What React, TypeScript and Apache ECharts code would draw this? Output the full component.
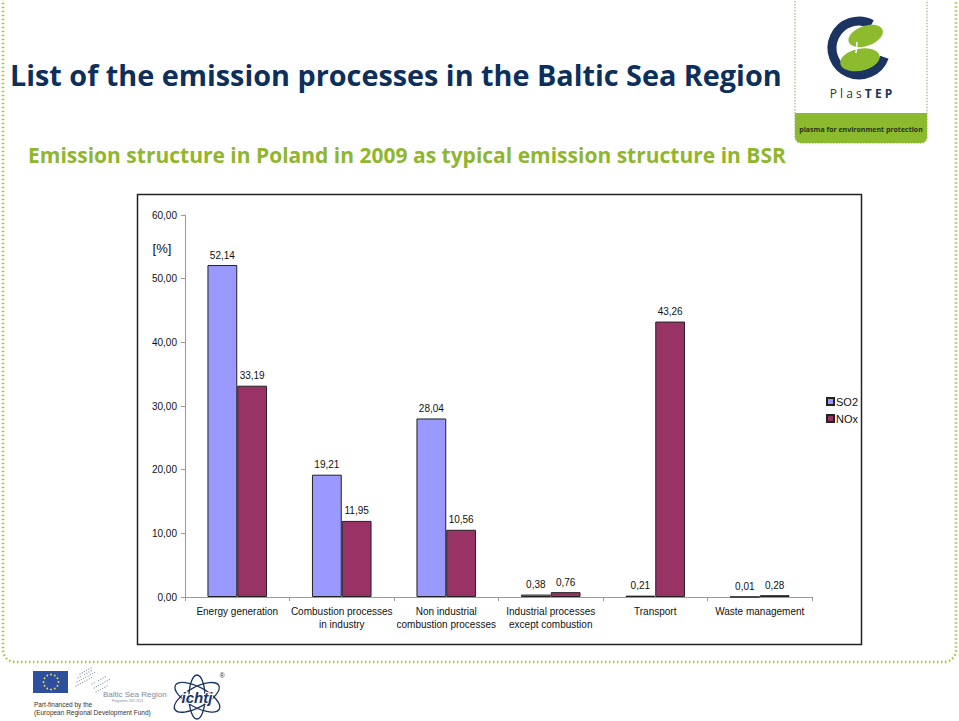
import React, { useEffect, useRef } from "react";
import * as echarts from "echarts";

const categories = [
  "Energy generation",
  "Combustion processes\nin industry",
  "Non industrial\ncombustion processes",
  "Industrial processes\nexcept combustion",
  "Transport",
  "Waste management",
];
const so2Values = [52.14, 19.21, 28.04, 0.38, 0.21, 0.01];
const noxValues = [33.19, 11.95, 10.56, 0.76, 43.26, 0.28];
const seriesNames = ["SO2", "NOx"];
const yTicks = { min: 0, max: 60, interval: 10 };

const fmt = (v: number) => v.toFixed(2).replace(".", ",");
const CHART_FONT = "Liberation Sans, Arial, sans-serif";
const TITLE_FONT = "Open Sans, Noto Sans, sans-serif";

export default function App() {
  const ref = useRef<HTMLDivElement>(null);
  useEffect(() => {
    if (!ref.current) return;
    const chart = echarts.init(ref.current, undefined, { renderer: "svg" });
    const starDots: any[] = [];
    for (let i = 0; i < 12; i++) {
      const a = (i / 12) * Math.PI * 2;
      starDots.push({
        type: "circle",
        shape: { cx: 51 + Math.cos(a) * 7.5, cy: 682 + Math.sin(a) * 7.5, r: 0.9 },
        style: { fill: "#f4e04d" },
      });
    }
    const bsrDots: any[] = [];
    const bsrRows = [
      [80, 674, 6], [78, 678, 8], [77, 682, 9], [76, 686, 8], [92, 684, 7], [94, 688, 8], [96, 692, 6],
    ];
    bsrRows.forEach(([x0, y0, n]) => {
      for (let k = 0; k < n; k++) {
        bsrDots.push({
          type: "circle",
          shape: { cx: x0 + k * 2.2, cy: y0 - k * 1.2, r: 0.6 },
          style: { fill: "#8a99a8" },
        });
      }
    });

    const labelStyle = {
      show: true,
      position: "top",
      distance: 5,
      fontSize: 10,
      color: "#111",
      fontFamily: CHART_FONT,
      formatter: (p: any) => fmt(p.value),
    };

    chart.setOption({
      animation: false,
      backgroundColor: "#ffffff",
      textStyle: { fontFamily: CHART_FONT },
      grid: { left: 185, right: 147, top: 215, bottom: 124, containLabel: false },
      legend: {
        orient: "vertical",
        left: 821,
        top: 391,
        itemWidth: 7,
        itemHeight: 7,
        itemGap: 6,
        icon: "rect",
        textStyle: { fontSize: 11, color: "#111", fontFamily: CHART_FONT, padding: [0, 0, 0, -3] },
        data: seriesNames,
      },
      xAxis: {
        type: "category",
        data: categories,
        axisLine: { lineStyle: { color: "#9a9a9a", width: 1 } },
        axisTick: { show: true, length: 4, lineStyle: { color: "#9a9a9a" } },
        axisLabel: {
          fontSize: 10,
          color: "#111",
          lineHeight: 13,
          margin: 8,
          interval: 0,
          fontFamily: CHART_FONT,
        },
      },
      yAxis: {
        type: "value",
        min: yTicks.min,
        max: yTicks.max,
        interval: yTicks.interval,
        splitLine: { show: false },
        axisLine: { show: true, lineStyle: { color: "#9a9a9a", width: 1 } },
        axisTick: { show: true, length: 4, lineStyle: { color: "#9a9a9a" } },
        axisLabel: {
          fontSize: 10,
          color: "#111",
          margin: 8,
          formatter: (v: number) => fmt(v),
          fontFamily: CHART_FONT,
        },
      },
      series: [
        {
          name: seriesNames[0],
          type: "bar",
          data: so2Values,
          barGap: "0%",
          barCategoryGap: "43%",
          itemStyle: { color: "#9999ff", borderColor: "#222", borderWidth: 1 },
          label: labelStyle,
        },
        {
          name: seriesNames[1],
          type: "bar",
          data: noxValues,
          barGap: "0%",
          barCategoryGap: "43%",
          itemStyle: { color: "#993366", borderColor: "#222", borderWidth: 1 },
          label: labelStyle,
        },
      ],
      graphic: [
        // slide dotted border
        {
          type: "rect",
          z: -10,
          shape: { x: 3, y: -30, width: 953, height: 692, r: 12 },
          style: { fill: "none", stroke: "#a9c43c", lineWidth: 2.5, lineDash: [1.5, 2.5] },
        },
        // chart box
        {
          type: "rect",
          z: -5,
          shape: { x: 137.5, y: 194.5, width: 724, height: 450 },
          style: { fill: "#fff", stroke: "#222", lineWidth: 1.5 },
        },
        // title
        {
          type: "text",
          x: 10,
          y: 74,
          style: {
            text: "List of the emission processes in the Baltic Sea Region",
            font: `bold 28.8px ${TITLE_FONT}`,
            fill: "#0d2f5c",
            textVerticalAlign: "middle",
          },
        },
        {
          type: "text",
          x: 28,
          y: 155,
          style: {
            text: "Emission structure in Poland in 2009 as typical emission structure in BSR",
            font: `bold 21px ${TITLE_FONT}`,
            fill: "#8fb62c",
            textVerticalAlign: "middle",
          },
        },
        // [%]
        {
          type: "text",
          x: 162,
          y: 248,
          style: {
            text: "[%]",
            font: `13px ${CHART_FONT}`,
            fill: "#111",
            textAlign: "center",
            textVerticalAlign: "middle",
          },
        },
        // PlasTEP logo box
        {
          type: "rect",
          shape: { x: 795, y: -10, width: 132, height: 153, r: 6 },
          style: { fill: "#fff", stroke: "#b9c39a", lineWidth: 1.5, lineDash: [1.5, 1.5] },
        },
        {
          type: "rect",
          shape: { x: 795, y: 113, width: 132, height: 30, r: [0, 0, 6, 6] },
          style: { fill: "#8cba2f" },
        },
        {
          type: "text",
          x: 861,
          y: 129,
          style: {
            text: "plasma for environment protection",
            font: `bold 7px ${TITLE_FONT}`,
            fill: "#27341c",
            textAlign: "center",
            textVerticalAlign: "middle",
          },
        },
        {
          type: "text",
          x: 861,
          y: 93,
          style: {
            rich: {
              a: { font: `12px ${TITLE_FONT}`, fill: "#333" },
              b: { font: `bold 12px ${TITLE_FONT}`, fill: "#1b3461" },
            },
            text: "{a|P l a s }{b|T E P}",
            textAlign: "center",
            textVerticalAlign: "middle",
          },
        },
        {
          type: "arc",
          shape: { cx: 859, cy: 48, r: 27, startAngle: 0.35, endAngle: 5.2, clockwise: true },
          style: { stroke: "#1b3461", lineWidth: 9, fill: "none" },
        },
        {
          type: "ellipse",
          shape: { cx: 866, cy: 36, rx: 18, ry: 10 },
          rotation: 0.35,
          originX: 866,
          originY: 36,
          style: { fill: "#8dbb2e" },
        },
        {
          type: "ellipse",
          shape: { cx: 860, cy: 60, rx: 20, ry: 11 },
          rotation: 0.2,
          originX: 860,
          originY: 60,
          style: { fill: "#8dbb2e" },
        },
        {
          type: "line",
          shape: { x1: 857, y1: 42, x2: 856, y2: 53 },
          style: { stroke: "#fff", lineWidth: 1.5 },
        },
        // EU flag
        {
          type: "rect",
          shape: { x: 33, y: 671, width: 35, height: 22 },
          style: { fill: "#2e4f9e" },
        },
        ...starDots,
        ...bsrDots,
        {
          type: "text",
          x: 103,
          y: 694,
          style: { text: "Baltic Sea Region", font: `8px ${CHART_FONT}`, fill: "#7d8c9a", textVerticalAlign: "middle" },
        },
        {
          type: "text",
          x: 112,
          y: 701,
          style: { text: "Programme 2007-2013", font: `3px ${CHART_FONT}`, fill: "#7d8c9a", textVerticalAlign: "middle" },
        },
        {
          type: "text",
          x: 34,
          y: 704,
          style: { text: "Part-financed by the", font: `6.5px ${CHART_FONT}`, fill: "#333", textVerticalAlign: "middle" },
        },
        {
          type: "text",
          x: 34,
          y: 712,
          style: { text: "(European Regional Development Fund)", font: `6.5px ${CHART_FONT}`, fill: "#333", textVerticalAlign: "middle" },
        },
        // ichtj logo
        {
          type: "ellipse",
          shape: { cx: 197, cy: 697, rx: 25, ry: 10 },
          rotation: 0.5,
          originX: 197,
          originY: 697,
          style: { fill: "none", stroke: "#1b3461", lineWidth: 1.3 },
        },
        {
          type: "ellipse",
          shape: { cx: 197, cy: 697, rx: 25, ry: 10 },
          rotation: -0.5,
          originX: 197,
          originY: 697,
          style: { fill: "none", stroke: "#1b3461", lineWidth: 1.3 },
        },
        {
          type: "ellipse",
          shape: { cx: 197, cy: 697, rx: 8, ry: 22 },
          style: { fill: "none", stroke: "#1b3461", lineWidth: 1.3 },
        },
        {
          type: "text",
          x: 197,
          y: 697,
          style: {
            text: "ichtj",
            font: `italic bold 15px ${CHART_FONT}`,
            fill: "#1b3461",
            stroke: "#fff",
            lineWidth: 2,
            textAlign: "center",
            textVerticalAlign: "middle",
          },
        },
        {
          type: "text",
          x: 222,
          y: 675,
          style: { text: "®", font: `7px ${CHART_FONT}`, fill: "#1b3461", textAlign: "center", textVerticalAlign: "middle" },
        },
      ],
    });
    return () => chart.dispose();
  }, []);

  return (
    <div
      ref={ref}
      style={{ position: "fixed", left: 0, top: 0, width: 959, height: 721 }}
    />
  );
}
